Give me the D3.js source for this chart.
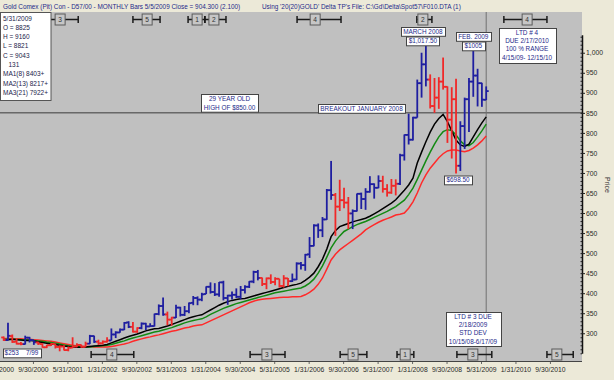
<!DOCTYPE html>
<html><head><meta charset="utf-8">
<script src="https://cdn.jsdelivr.net/npm/d3@7"></script>
<style>body{margin:0;background:#ECE9D8;overflow:hidden}svg{display:block;font-family:"Liberation Sans",Arial,sans-serif}</style>
</head><body><svg id="c" width="614" height="380"></svg>
<script>
// ---- DATA (monthly bars, index 0 = Jan 2000 ... 112 = May 2009) ----
const opens = [289.5,283,293,279,274,273,289,283,277,273,265,270,
 273,266,267,258,264,267,271,266,274,293,279,275,
 279,282,297,302,309,327,316,304,313,324,317,318,
 348,368,347,334,339,364,346,355,376,388,384,398,
 416,403,397,427,388,394,396,391,408,416,429,453,
 438,423,437,428,436,418,437,430,434,474,470,497,
 518,569,557,584,657,645,616,632,626,599,605,648,
 635,653,672,663,680,660,651,668,673,744,795,783,
 838,924,971,933,867,888,928,915,833,884,718,817,
 884,928,943,924,882.5];
const highs = [292,326,297,288,278,294,291,283,279,275,271,275,
 274,270,270,267,290,275,272,279,296,294,284,282,
 290,312,305,312,328,330,328,315,327,326,325,349,
 372,389,354,341,371,366,368,377,393,392,401,417,
 427,425,428,431,396,404,412,418,420,430,456,458,
 439,439,447,440,436,445,438,449,477,478,498,540,
 572,574,590,660,730,650,683,663,640,609,649,651,
 662,692,674,694,693,672,685,684,748,796,848,840,
 933,1000,1017.5,946,937,939,988,916,914,935,829,888,
 937,1005,960,925,916];
const lows = [281,282,276,272,270,272,277,271,271,264,263,268,
 262,255,257,255,263,265,264,266,273,276,271,272,
 277,282,288,301,308,313,302,301,310,308,316,317,
 345,344,320,319,338,342,343,350,370,370,380,398,
 399,393,391,382,371,384,388,385,399,413,425,432,
 418,410,423,420,414,414,417,428,433,459,456,488,
 517,538,540,583,633,543,605,612,560,560,604,610,
 608,651,636,662,651,641,648,644,670,731,771,781,
 838,888,916,861,850,860,908,775,736,698.5,705,760,
 802,890,866,865,882.1];
const closes = [283.3,293.7,278.4,274,273,289,283,277.5,274,265,270,273.6,
 266,267,258,264,267,271,266,274,293,279,275,279,
 282,297,302,309,326,316,304,313,324,317,318,348,
 368,347,334,339,364,346,355,375,388,384,397,416,
 403,397,427,388,394,396,391,408,416,429,453,438,
 423,437,428,436,418,437,430,434,474,470,496,518,
 569,557,584,657,645,616,632,626,599,605,648,635,
 653,672,663,680,660,651,668,673,744,795,783,838,
 924,971,933,867,888,928,915,833,884,718,817,884,
 928,943,924,883,904.3];
// bar colour flags: R = red, B = blue
const barFlags = "RBRRRBBBRR"+"RRRRRRRRRR"+"BBRRRBBBBB"+"RRBBBBBBRR"+"BBBBBBBBBB"+"BBBBBBBBBB"+"RRRRRRRBBB"+"BBBBBBBRRR"+"RBBBBBBBRR"+"RRBBBBBBBR"+"RRRRRRBBBB"+"BBB";
const ma1 = [283,284,285,284,283,282,282, 281,279,277,275,273,272, 270,268,267,266,265,265,
 266,267,268,269,270,272, 276,280,284,288,292,295, 298,302,306,309,311,312,
 315,318,322,326,330,334, 338,341,344,346,352,358, 364,370,375,379,382,384,386,387,
 390,393,396,399,402,405, 408,411,414,417,420,422,425, 432,440,450,466,485,510,541,
 556,566,570,574,578,581,584,587, 592,598,604,611,618,625,633, 645,657,670,687,725,752,
 778,802,822,836,846,828,805,782,770,766,772,790,808,825,840];
const ma2 = [285,285,285,285,284,284,283, 282,281,280,278,277,275, 273,271,269,268,267,266,
 266,266,267,268,269,270, 272,275,278,281,285,288, 291,294,297,300,303,305,
 308,311,314,318,322,326, 329,332,334,336,341,347, 352,357,362,366,370,374,377,380,
 383,386,389,392,395,398, 401,403,405,407,409,411,413, 418,425,435,450,468,490,513,
 530,543,554,560,566,571,575,579, 584,589,594,599,604,610,616, 624,632,646,662,684,707,
 730,752,772,790,803,808,806,795,780,770,768,776,790,805,822];
const ma3 = [287,287,287,286,286,285,285, 284,283,282,281,280,278, 276,274,272,270,269,268,
 267,267,266,266,266,266, 267,269,271,273,276,280, 283,286,289,291,294,296,
 299,302,305,307,310,313, 315,318,320,321,326,331, 336,341,346,351,356,361,366,371,
 376,380,383,385,386,387, 388,389,390,390,391,391,392, 396,402,410,422,438,460,483,
 497,508,516,524,532,540,548,558, 565,571,577,582,586,590,595, 597,600,612,628,650,675,
 695,712,725,738,748,755,757,757,755,753,756,762,770,780,792];
const tickMonths = [0,8,16,24,32,40,48,56,64,72,80,88,96,104,112,120,128];
const tickLabels = ["1/31/2000","9/30/2000","5/31/2001","1/31/2002","9/30/2002","5/31/2003","1/31/2004","9/30/2004","5/31/2005","1/31/2006","9/30/2006","5/31/2007","1/31/2008","9/30/2008","5/31/2009","1/31/2010","9/30/2010"];
const priceTicks = [300,350,400,450,500,550,600,650,700,750,800,850,900,950,1000];
const topCycleNum = [3,5,1,2,4,2,4];
const topCycleStart = [10.8,30,42.8,46.7,68.1,95.9,116.1];
const topCycleMid = [13.1,33.3,44.9,48.8,72.3,97.3,121.5];
const topCycleEnd = [17.3,36.3,46.7,51.6,78.3,99.4,126.1];
const botCycleNum = [4,3,5,1,3,5];
const botCycleStart = [20.3,57.2,78.1,91.3,105.2,126.1];
const botCycleMid = [25.1,61.1,81.1,93.2,108.9,128.4];
const botCycleEnd = [30.2,65.3,84.3,95.2,113.3,132.2];
const infoLines = ["5/31/2009","O = 8825","H = 9160","L = 8821","C = 9043","   131","MA1(8) 8403+","MA2(13) 8217+","MA3(21) 7922+"];
const breakoutLevel = 850;

// ---- DRAWING ----
const svg = d3.select("#c");
const PL=0, PT=12, PR=582, PB=361;
svg.append("rect").attr("width",614).attr("height",380).attr("fill","#ECE9D8");
svg.append("rect").attr("x",PL).attr("y",PT).attr("width",PR-PL).attr("height",PB-PT).attr("fill","#C0C0C0");
svg.append("defs").append("clipPath").attr("id","clip").append("rect").attr("x",PL).attr("y",PT).attr("width",PR-PL).attr("height",PB-PT);

const x = d3.scaleLinear().domain([0,112]).range([3.68,486.2]);
const y = d3.scaleLinear().domain([250,1045]).range([353.3,34.7]);
const xLab = x.copy().range([3.68-5.2,486.2-5.2]);

const navy = "#1e2a8a";
// header
svg.append("text").attr("x",3).attr("y",8.5).attr("font-size",6.4).attr("fill",navy)
  .text("Gold Comex (Pit) Con - D57/00  - MONTHLY Bars  5/5/2009 Close = 904.300 (2.100)");
svg.append("text").attr("x",262).attr("y",8.5).attr("font-size",6.4).attr("fill",navy)
  .text("Using '20(20)GOLD' Delta TP's    File: C:\\Gd\\Delta\\Spot57\\F010.DTA (1)");

const g = svg.append("g").attr("clip-path","url(#clip)");
g.append("line").attr("x1",PL).attr("x2",PR).attr("y1",y(breakoutLevel)).attr("y2",y(breakoutLevel)).attr("stroke","#3a3a3a").attr("stroke-width",1);
g.append("line").attr("x1",x(closes.length-1)).attr("x2",x(closes.length-1)).attr("y1",PT).attr("y2",PB).attr("stroke","#707070").attr("stroke-width",1);

// moving averages
const line = d3.line().x((d,i)=>x(i)).y(d=>y(d));
[[ma3,"#ff2a2a"],[ma2,"#138a13"],[ma1,"#000000"]].forEach(([arr,c])=>{
  g.append("path").attr("d",line(arr)).attr("fill","none").attr("stroke",c).attr("stroke-width",1.5);
});

// OHLC bars
const bars = g.selectAll("g.bar").data(closes.map((c,i)=>({i,o:opens[i],h:highs[i],l:lows[i],c,f:barFlags[i]})))
  .enter().append("g").attr("stroke",d=>d.f==="R"?"#f02828":"#1e1ea0").attr("stroke-width",1.8);
bars.append("line").attr("x1",d=>x(d.i)).attr("x2",d=>x(d.i)).attr("y1",d=>y(d.h)).attr("y2",d=>y(d.l));
bars.append("line").attr("x1",d=>x(d.i)-2.5).attr("x2",d=>x(d.i)).attr("y1",d=>y(d.o)).attr("y2",d=>y(d.o));
bars.append("line").attr("x1",d=>x(d.i)).attr("x2",d=>x(d.i)+2.5).attr("y1",d=>y(d.c)).attr("y2",d=>y(d.c));

// cycle markers
function cycles(nums,st,mid,en,yy){
  nums.forEach((n,i)=>{
    const gg = svg.append("g").attr("clip-path","url(#clip)");
    gg.append("line").attr("x1",x(st[i])).attr("x2",x(en[i])).attr("y1",yy).attr("y2",yy).attr("stroke","#1a1a1a").attr("stroke-width",1.5);
    [st[i],en[i]].forEach(v=>gg.append("line").attr("x1",x(v)).attr("x2",x(v)).attr("y1",yy-3.5).attr("y2",yy+3.5).attr("stroke","#1a1a1a").attr("stroke-width",1.5));
    gg.append("rect").attr("x",x(mid[i])-5).attr("y",yy-5.5).attr("width",10).attr("height",11).attr("fill","#c6c6c6").attr("stroke","#5a5a5a").attr("stroke-width",1);
    gg.append("text").attr("x",x(mid[i])).attr("y",yy+2.5).attr("text-anchor","middle").attr("font-size",6.6).attr("fill","#333").text(n);
  });
}
cycles(topCycleNum,topCycleStart,topCycleMid,topCycleEnd,19.5);
cycles(botCycleNum,botCycleStart,botCycleMid,botCycleEnd,354.5);

// annotation boxes (centred at cx, top at y0), sized to their text
function box(cx,y0,lines,opt){
  opt = opt||{};
  const fs = opt.fs||6.4, lh = opt.lh||8.3;
  const gg = svg.append("g");
  const r = gg.append("rect");
  let wmax = 0;
  lines.forEach((t,i)=>{
    const tx = gg.append("text").attr("x",cx).attr("y",y0+lh*(i+1)-1.6).attr("text-anchor","middle")
      .attr("font-size",fs).attr("fill",navy).attr("xml:space","preserve").style("white-space","pre").text(t);
    wmax = Math.max(wmax, tx.node().getComputedTextLength());
  });
  const w = opt.w || Math.round(wmax+5);
  r.attr("x",Math.round(cx-w/2)+0.5).attr("y",y0+0.5).attr("width",w).attr("height",opt.h||lh*lines.length+0.5)
   .attr("fill","#fff").attr("stroke","#444").attr("stroke-width",1);
}
box(229.5,94,["29 YEAR OLD","HIGH OF $850.00"],{lh:8.6});
box(361.5,104,["BREAKOUT JANUARY 2008"]);
box(x(98)-3,27,["MARCH 2008"]);
box(x(98)-3,36.5,["$1,017.50"]);
box(x(109),32,["FEB. 2009"]);
box(x(109),41.5,["$1005"]);
box(527,28,["LTD # 4","DUE 2/17/2010","100 % RANGE","4/15/09- 12/15/10"],{w:57,h:35});
box(473,312,["LTD # 3 DUE","2/18/2009","STD DEV","10/15/08-6/17/09"],{w:55,h:34});
box(x(105)+2,175.5,["$698.50"]);
box(21.5,348.5,["$253    7/99"],{w:38});

// info box
svg.append("rect").attr("x",0.5).attr("y",12.5).attr("width",50.5).attr("height",88).attr("fill","#fff").attr("stroke","#555");
infoLines.forEach((t,i)=>svg.append("text").attr("x",3).attr("y",20.5+i*9.3).attr("font-size",6.5).attr("fill","#22224a")
  .attr("xml:space","preserve").style("white-space","pre").text(t));

// bottom axis
const xa = svg.append("g").attr("transform",`translate(0,${PB})`)
  .call(d3.axisBottom(xLab).tickValues(tickMonths).tickFormat((d,i)=>tickLabels[i]).tickSize(3).tickSizeOuter(0));
xa.select(".domain").remove();
xa.selectAll("line").attr("stroke","#666");
xa.selectAll("text").attr("font-size",6.8).attr("fill","#2a2a2a").attr("font-family","Liberation Sans, Arial").attr("dy","0.75em");
svg.append("line").attr("x1",PL).attr("x2",PR).attr("y1",PB+0.5).attr("y2",PB+0.5).attr("stroke","#444").attr("stroke-width",1.2);

// right axis
const ya = svg.append("g").attr("transform",`translate(${PR},0)`)
  .call(d3.axisRight(y).tickValues(priceTicks).tickFormat(d3.format(",")).tickSize(3).tickSizeOuter(0).tickPadding(1));
ya.select(".domain").attr("stroke","#111").attr("stroke-width",1.5);
ya.selectAll("line").attr("stroke","#222");
ya.selectAll("text").attr("font-size",6.8).attr("fill","#2a2a2a").attr("font-family","Liberation Sans, Arial");
const minor = svg.append("g").attr("transform",`translate(${PR},0)`)
  .call(d3.axisLeft(y).tickValues(d3.range(250,1046,10)).tickSize(1.5).tickFormat(""));
minor.select(".domain").remove();
minor.selectAll("line").attr("stroke","#222");
svg.append("text").attr("transform","translate(605,185) rotate(90)").attr("text-anchor","middle").attr("font-size",7).attr("fill","#333").text("Price");
</script></body></html>
